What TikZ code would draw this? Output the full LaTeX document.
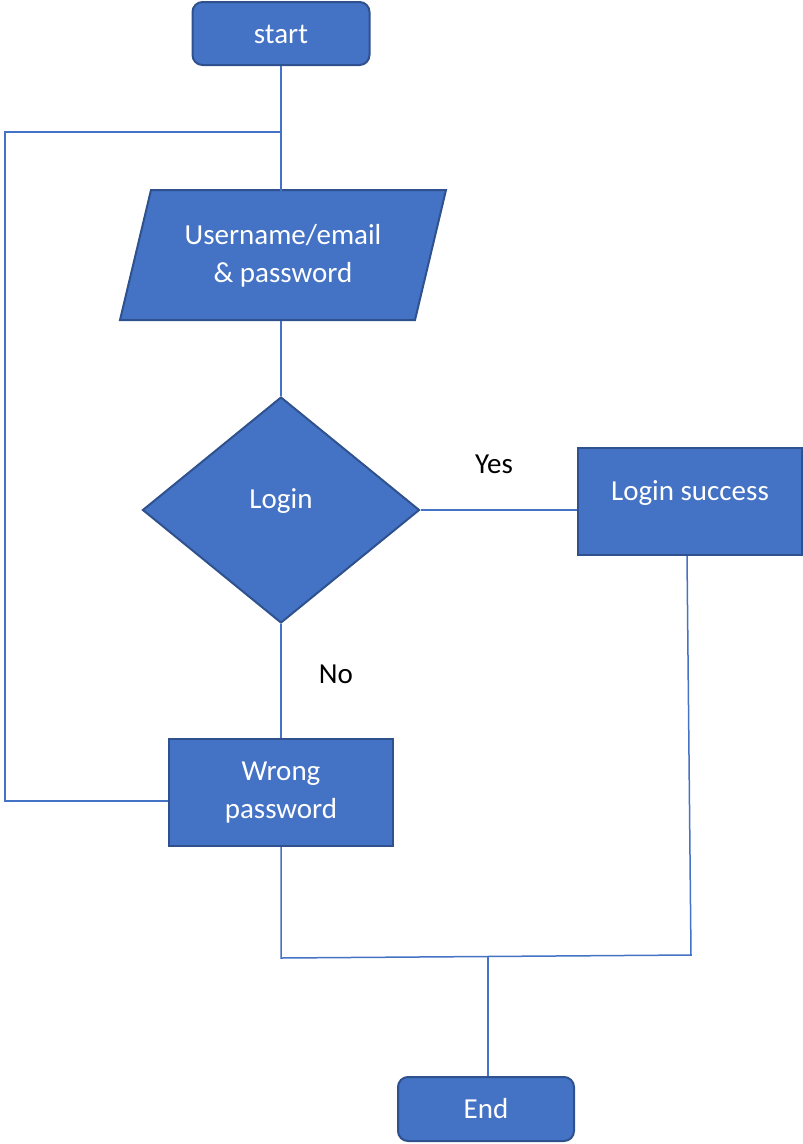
\documentclass[tikz,border=0pt]{standalone}
\usepackage{fontspec}
\setmainfont{Carlito}
\usetikzlibrary{shapes.geometric}
\definecolor{fillblue}{HTML}{4472C4}
\definecolor{edgeblue}{HTML}{2F528F}
\begin{document}
\begin{tikzpicture}[x=1pt,y=-1pt,
  box/.style={draw=edgeblue, fill=fillblue, line width=2pt, text=white,
    font=\fontsize{29}{38}\selectfont, align=center, inner sep=0pt},
  term/.style={box, rounded corners=10pt},
  link/.style={draw=fillblue, line width=1.5pt},
  lbl/.style={font=\fontsize{29}{36}\selectfont, text=black, inner sep=0pt}]
\useasboundingbox (0,0) rectangle (803,1144);
% shapes
\node[term, minimum width=177, minimum height=63, text height=20pt, text depth=1pt] (start) at (281,33.5) {start};
\filldraw[box] (151,190) -- (446,190) -- (415,320) -- (120,320) -- cycle;
\node[text=white, font=\fontsize{29}{38}\selectfont, align=center, inner sep=0pt,
  minimum width=264, minimum height=130] (inp) at (283,256) {Username/email\\\& password};
\node[box, diamond, minimum width=277, minimum height=226, text height=20pt, text depth=24pt] (login) at (281,510) {Login};
\node[box, minimum width=224, minimum height=107, text height=20pt, text depth=23pt] (success) at (690,501.5) {Login success};
\node[box, minimum width=224, minimum height=107] (wrong) at (281,792.5) {Wrong\\password};
\node[term, minimum width=176, minimum height=64, text height=20pt, text depth=2pt] (end) at (486,1109) {End};
% labels
\node[lbl] (yes) at (494,464) {Yes};
\node[lbl] (no) at (336,674) {No};
% free ends
\coordinate (loopA) at (5,801);
\coordinate (loopB) at (5,132);
\coordinate (jL) at (281,958);
\coordinate (jR) at (691,955);
\coordinate (jM) at (488,957);
% connectors
\draw[link] (start.south) -- (start.south |- inp.north);
\draw[link] (start.south |- inp.south) -- (login.north);
\draw[link] (login.east) -- (login.east -| success.west);
\draw[link] (login.south) -- (login.south |- wrong.north);
\draw[link] ([yshift=-8.5pt]wrong.west) -- (loopA) -- (loopB) -- (loopB -| start.south);
\draw[link] (wrong.south) -- (jL) -- (jR) -- ([xshift=-3pt]success.south);
\draw[link] (jM) -- (jM |- end.north);
\end{tikzpicture}
\end{document}
